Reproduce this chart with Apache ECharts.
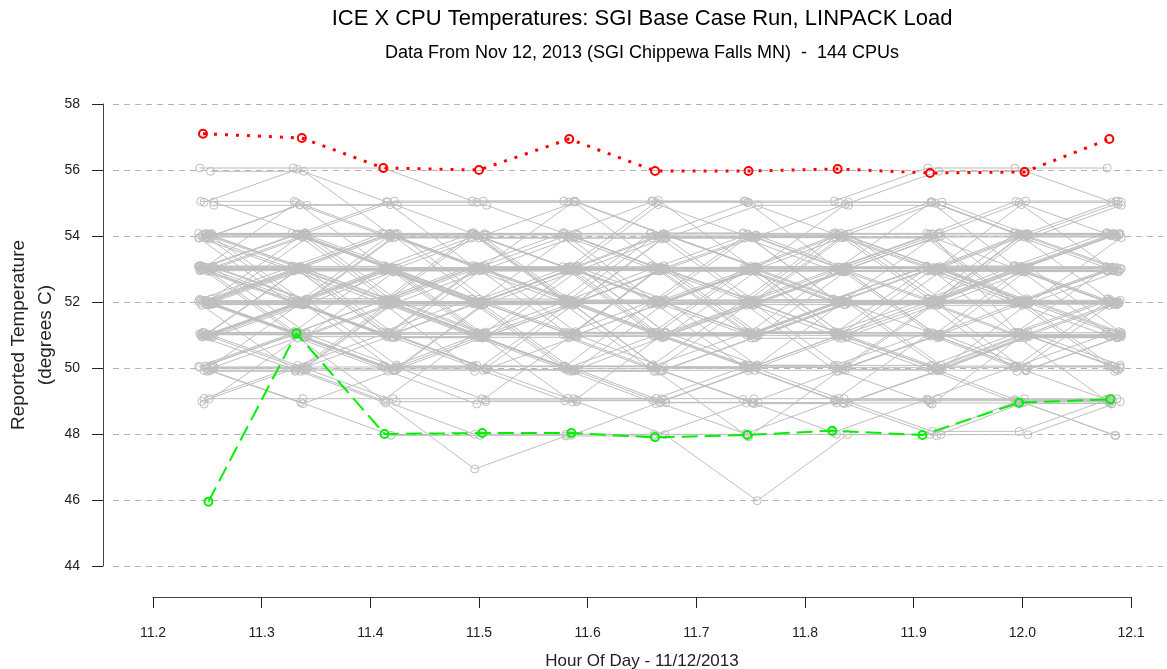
<!DOCTYPE html>
<html>
<head>
<meta charset="utf-8">
<title>ICE X CPU Temperatures</title>
<script src="https://cdn.jsdelivr.net/npm/echarts@6.0.0/dist/echarts.min.js"></script>
<style>
  html, body { margin: 0; padding: 0; background: #fff; }
  #chart { width: 1167px; height: 669px; }
</style>
</head>
<body>
<div id="chart"></div>
<script>
// reading times (hour of day), centre of each cluster of CPU readings
var hours = [11.249, 11.335, 11.418, 11.500, 11.584, 11.665, 11.750, 11.833, 11.919, 11.999, 12.084];

// one row per CPU, one temperature per reading time
var cpuTemps = [
  [56,56,56,55,55,55,55,55,56,56,56],
  [56,56,54,54,54,53,54,55,56,56,55],
  [55,56,55,55,55,55,55,55,55,55,55],
  [55,55,55,55,54,54,55,55,55,54,55],
  [55,55,54,54,54,55,55,54,54,55,54],
  [54,54,54,53,53,54,54,54,55,54,54],
  [54,54,54,54,54,54,54,54,54,54,54],
  [54,54,53,53,52,53,53,54,54,54,54],
  [54,53,52,52,51,52,53,53,54,54,53],
  [54,54,55,54,53,53,54,54,55,54,54],
  [54,55,54,54,54,53,53,53,54,53,53],
  [54,54,54,54,54,54,53,53,53,54,54],
  [54,53,53,52,52,52,52,52,53,53,52],
  [54,54,53,52,52,51,51,52,52,53,54],
  [53,53,52,52,52,52,53,53,53,52,53],
  [53,53,53,53,53,53,53,53,53,53,53],
  [53,54,54,53,53,52,52,53,54,54,54],
  [53,52,51,51,50,50,51,52,52,53,53],
  [53,53,53,52,52,53,53,52,52,52,52],
  [53,54,53,53,54,54,54,54,53,53,53],
  [53,52,52,51,51,51,51,51,52,52,52],
  [53,53,52,51,50,50,50,51,51,52,53],
  [53,53,54,54,53,53,52,52,53,53,53],
  [53,52,52,52,52,53,53,53,53,52,52],
  [53,54,54,54,55,54,54,53,53,54,54],
  [53,53,53,53,52,52,52,51,51,51,51],
  [52,52,52,52,52,52,52,52,52,52,52],
  [52,53,53,52,51,51,50,50,51,51,52],
  [52,51,51,50,50,49,49,49,50,51,51],
  [52,52,53,53,53,52,52,52,52,53,53],
  [52,52,51,51,51,52,52,53,53,53,52],
  [52,53,52,52,53,53,54,54,53,52,52],
  [52,51,50,50,50,50,51,51,51,50,50],
  [52,52,52,53,53,53,52,51,51,51,51],
  [52,53,54,53,53,52,51,51,52,52,53],
  [52,52,51,51,50,51,52,52,52,51,51],
  [52,52,52,51,51,50,50,50,50,50,51],
  [52,51,52,52,51,51,52,53,52,52,52],
  [51,51,51,51,51,51,51,51,51,51,51],
  [51,52,52,52,52,51,51,51,50,51,51],
  [51,51,50,49,49,49,50,50,51,50,50],
  [51,50,49,47,48,48,49,49,49,49,49],
  [51,52,53,52,52,52,53,52,51,51,52],
  [51,51,51,50,50,50,50,49,49,49,49],
  [51,50,50,50,51,51,51,52,52,52,51],
  [51,51,52,53,52,51,50,50,50,51,50],
  [51,52,51,51,50,49,49,49,48,49,48],
  [51,51,50,50,49,49,48,49,49,49,49],
  [50,50,50,50,50,50,50,50,50,50,50],
  [50,51,51,51,52,52,51,51,50,50,50],
  [50,50,49,49,49,48,46,48,48,48,49],
  [50,51,50,50,50,50,49,48,49,50,49],
  [50,49,48,48,48,49,49,50,50,49,48],
  [50,50,51,51,51,50,50,50,51,51,51],
  [50,51,52,51,50,49,50,51,50,49,49],
  [49,49,49,49,49,49,49,49,49,49,49],
  [49,50,49,48,48,48,48,48,48,49,49],
  [50,50,50,51,52,52,53,53,53,52,51],
  [54,53,53,53,53,54,54,53,53,53,53],
  [53,53,54,53,52,52,52,53,53,53,54],
  [52,53,52,51,51,51,51,52,52,52,52],
  [51,52,51,52,53,53,53,52,52,51,51],
  [54,54,55,55,55,54,53,53,54,55,55],
  [53,52,53,53,53,53,53,52,52,53,53],
  [54,52,53,51,52,54,52,53,51,53,52],
  [53,51,52,54,52,51,53,51,53,51,53],
  [52,54,52,53,51,53,51,52,54,52,51],
  [51,53,51,52,54,52,54,52,52,54,53],
  [53,52,54,52,53,51,52,54,52,53,51],
  [52,50,52,50,52,50,52,50,52,50,52],
  [51,53,53,51,51,53,53,51,51,53,53],
  [54,52,52,54,54,52,52,54,54,52,52],
  [50,52,50,51,53,51,50,52,50,51,50],
  [53,55,53,54,52,54,55,53,55,53,54],
  [52,51,53,52,50,52,51,53,52,50,51],
  [54,53,51,53,54,53,51,52,53,54,53],
  [51,50,52,51,49,51,52,50,51,52,50],
  [53,51,53,54,52,50,52,54,52,54,52],
  [52,54,53,51,53,54,52,51,53,52,54],
  [50,51,49,51,50,52,50,49,51,50,52],
  [54,53,54,52,53,55,53,54,52,53,54],
  [51,52,50,52,53,51,53,51,50,52,53],
  [53,54,52,53,51,52,54,53,54,51,52],
  [52,53,51,50,52,53,51,52,50,51,50],
  [49,51,50,49,51,50,48,50,49,51,49],
  [54,52,53,53,55,53,52,54,53,52,53],
  [53,53,51,52,52,54,54,52,53,53,51],
  [52,52,54,54,52,52,53,53,51,51,52],
  [51,51,51,53,53,51,51,53,53,52,52],
  [50,50,52,52,50,50,51,51,52,52,50],
  [53,51,51,53,53,52,50,50,52,54,54],
  [52,53,53,52,50,51,53,54,54,52,51],
  [54,54,52,51,51,53,53,52,52,54,55],
  [51,52,54,54,53,51,50,51,53,53,52],
  [52,51,50,51,52,54,54,53,51,50,51],
  [53,52,52,53,54,53,51,51,52,53,54],
  [50,49,50,52,52,50,49,49,50,51,51],
  [55,54,53,54,54,54,53,55,55,54,55],
  [49,50,51,50,49,49,50,49,48,48,49],
  [54,55,55,53,53,55,54,54,53,55,53]
];

// each CPU reports a little before / after the cluster centre
var cpuHourShift = [-0.006,0.004,-0.002,0.007,-0.005,0.001,-0.007,0.003,0.006,-0.003,0.000,0.005,-0.004,0.002,-0.006,0.007,
  -0.001,0.004,-0.005,0.003,0.006,-0.002,-0.007,0.001,0.005,-0.004,0.002,-0.006,0.007,-0.003,0.000,0.004,
  -0.005,0.006,-0.001,0.003,-0.007,0.005,-0.002,0.001,0.006,-0.004,0.003,-0.006,0.007,-0.003,0.002,-0.005,
  0.004,-0.001,0.006,-0.007,0.001,0.005,-0.002,0.003,-0.004,0.007,-0.006,0.002,0.000,-0.003,0.004,-0.005,
  0.003,-0.006,0.005,-0.002,0.007,-0.004,0.001,-0.007,0.006,-0.003,0.004,-0.001,0.002,-0.005,0.007,-0.006,
  0.000,0.005,-0.003,0.006,-0.002,0.003,-0.007,0.004,-0.004,0.001,0.006,-0.005,0.002,-0.001,0.005,-0.006,
  0.003,0.007,-0.002,0.000];
// small vertical jitter of each CPU trace
var cpuTempShift = [0.06,-0.04,0.02,-0.07,0.05,-0.01,0.08,-0.03,0.00,0.04,-0.06,0.07,-0.02,0.03,-0.05,0.01,
  0.06,-0.08,0.02,-0.04,0.05,-0.01,0.07,-0.06,0.03,-0.03,0.00,0.08,-0.05,0.04,-0.07,0.01,
  0.06,-0.02,0.05,-0.08,0.02,-0.04,0.07,-0.01,0.03,-0.06,0.00,0.04,-0.03,0.08,-0.05,0.01,
  -0.07,0.06,-0.02,0.05,-0.04,0.02,-0.08,0.07,-0.01,0.03,-0.06,0.04,0.00,-0.05,0.06,-0.03,
  -0.09,0.05,0.10,-0.02,0.07,-0.10,0.03,-0.06,0.09,0.01,-0.08,0.04,-0.03,0.10,-0.05,0.02,
  0.08,-0.07,0.06,-0.01,-0.09,0.04,0.09,-0.04,0.01,-0.10,0.07,-0.03,0.05,0.00,-0.06,0.10,
  -0.08,0.03,0.08,-0.05];

// highlighted max trace (red) and min trace (green)
var maxHours = [11.246, 11.337, 11.412, 11.500, 11.583, 11.662, 11.748, 11.830, 11.915, 12.002, 12.080];
var maxTemps = [57.1, 56.97, 56.06, 56.0, 56.94, 55.97, 55.97, 56.03, 55.91, 55.94, 56.94];
var minHours = [11.251, 11.332, 11.413, 11.503, 11.585, 11.662, 11.747, 11.825, 11.908, 11.997, 12.081];
var minTemps = [45.95, 51.05, 48.0, 48.03, 48.03, 47.9, 47.97, 48.1, 47.97, 48.95, 49.05];

var gray = '#BEBEBE';
var font = '"Liberation Sans", Arial, sans-serif';

var series = [];
cpuTemps.forEach(function (temps, i) {
  series.push({
    type: 'line',
    xAxisIndex: 0, yAxisIndex: 0,
    data: temps.map(function (t, j) { return [hours[j] + cpuHourShift[i], t + cpuTempShift[i]]; }),
    symbol: 'circle', symbolSize: 8,
    itemStyle: { color: 'rgba(0,0,0,0)', borderColor: gray, borderWidth: 1 },
    lineStyle: { color: gray, width: 1 },
    silent: true, z: 2
  });
});
series.push({
  type: 'line',
  data: maxHours.map(function (h, j) { return [h, maxTemps[j]]; }),
  symbol: 'circle', symbolSize: 8,
  itemStyle: { color: 'rgba(0,0,0,0)', borderColor: '#FF0000', borderWidth: 2 },
  lineStyle: { color: '#FF0000', width: 3, type: [3, 8] },
  silent: true, z: 4
});
series.push({
  type: 'line',
  data: minHours.map(function (h, j) { return [h, minTemps[j]]; }),
  symbol: 'circle', symbolSize: 8,
  itemStyle: { color: 'rgba(0,0,0,0)', borderColor: '#00F000', borderWidth: 2 },
  lineStyle: { color: '#00F000', width: 2, type: [16, 7] },
  silent: true, z: 4
});

var chart = echarts.init(document.getElementById('chart'));
chart.setOption({
  animation: false,
  backgroundColor: '#fff',
  textStyle: { fontFamily: font },
  graphic: [
    { type: 'text', x: 642, y: 19, style: { text: 'ICE X CPU Temperatures: SGI Base Case Run, LINPACK Load',
      align: 'center', verticalAlign: 'middle', fontSize: 22, fontFamily: font, fill: '#000' } },
    { type: 'text', x: 642, y: 53, style: { text: 'Data From Nov 12, 2013 (SGI Chippewa Falls MN)  -  144 CPUs',
      align: 'center', verticalAlign: 'middle', fontSize: 18, fontFamily: font, fill: '#000' } }
  ],
  grid: [
    { left: 113, right: 4, top: 104, bottom: 103, outerBoundsMode: 'none' },
    { left: 153, right: 36, top: 580, bottom: 72, outerBoundsMode: 'none' }
  ],
  xAxis: [
    { type: 'value', gridIndex: 0, min: 11.1632, max: 12.1294, show: false },
    {
      type: 'value', gridIndex: 1, min: 11.2, max: 12.1, interval: 0.1,
      axisLine: { show: true, lineStyle: { color: '#444', width: 1 } },
      axisTick: { show: true, length: 11, lineStyle: { color: '#222' } },
      axisLabel: { margin: 29, fontSize: 14, color: '#222', fontFamily: font,
        formatter: function (v) { return v.toFixed(1); } },
      splitLine: { show: false },
      name: 'Hour Of Day - 11/12/2013', nameLocation: 'middle', nameGap: 56, nameMoveOverlap: false,
      nameTextStyle: { fontSize: 17, color: '#222', fontFamily: font }
    }
  ],
  yAxis: [
    {
      type: 'value', gridIndex: 0, min: 44, max: 58, interval: 2, offset: 10,
      axisLine: { show: true, lineStyle: { color: '#444', width: 1 } },
      axisTick: { show: true, length: 11, lineStyle: { color: '#222' } },
      axisLabel: { margin: 23, fontSize: 14, color: '#222', fontFamily: font },
      splitLine: { show: true, lineStyle: { color: '#B4B4B4', width: 1, type: [6, 5] } },
      name: 'Reported Temperature\n(degrees C)', nameLocation: 'middle', nameRotate: 90, nameGap: 44,
      nameMoveOverlap: false,
      nameTextStyle: { fontSize: 19, lineHeight: 27, color: '#222', fontFamily: font, align: 'center' }
    },
    { type: 'value', gridIndex: 1, show: false }
  ],
  series: series
});
</script>
</body>
</html>
